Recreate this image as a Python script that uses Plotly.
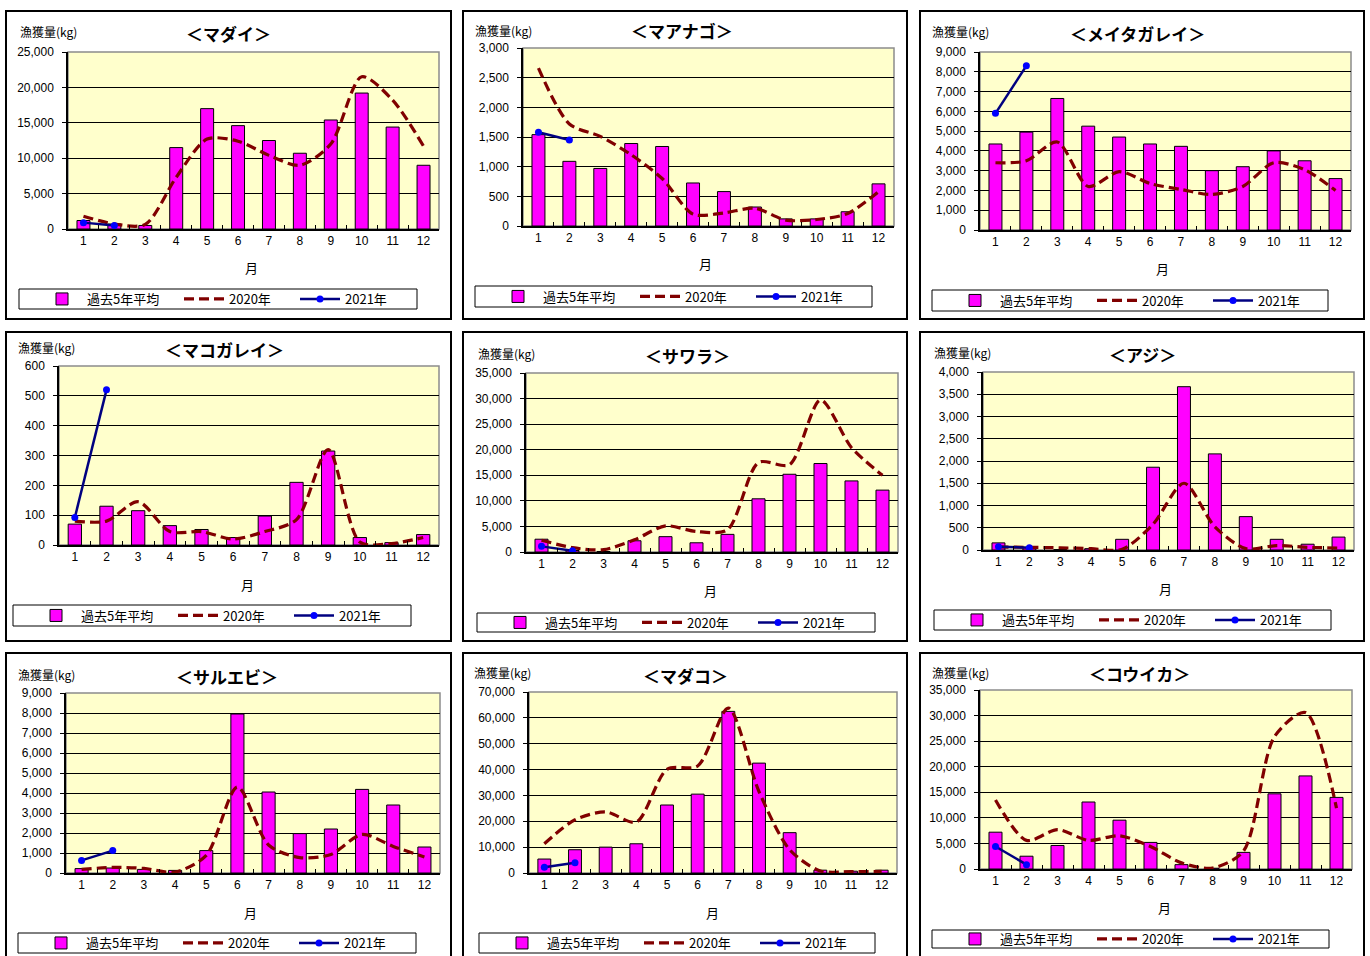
import plotly.graph_objects as go

# ---------------- data ----------------
months = [str(m) for m in range(1, 13)]
series_names = ["過去5年平均", "2020年", "2021年"]
titles = ["＜マダイ＞", "＜マアナゴ＞", "＜メイタガレイ＞", "＜マコガレイ＞", "＜サワラ＞",
          "＜アジ＞", "＜サルエビ＞", "＜マダコ＞", "＜コウイカ＞"]

madai_avg = [1200, 700, 500, 11500, 17000, 14600, 12500, 10700, 15400, 19200, 14400, 9000]
madai_2020 = [1800, 700, 650, 7300, 12700, 12400, 10400, 9000, 12000, 21500, 18200, 11700]
madai_2021 = [900, 500]

maanago_avg = [1540, 1090, 970, 1390, 1340, 725, 580, 320, 120, 120, 240, 710]
maanago_2020 = [2660, 1720, 1510, 1200, 800, 200, 220, 300, 100, 110, 210, 580]
maanago_2021 = [1580, 1450]

meita_avg = [4350, 4950, 6650, 5250, 4700, 4350, 4230, 3000, 3200, 4000, 3500, 2600]
meita_2020 = [3400, 3500, 4450, 2200, 2950, 2350, 2050, 1800, 2200, 3400, 3050, 2000]
meita_2021 = [5900, 8300]

makogarei_avg = [70, 130, 115, 65, 52, 25, 97, 210, 315, 25, 8, 35]
makogarei_2020 = [80, 80, 145, 45, 45, 20, 45, 85, 320, 10, 5, 25]
makogarei_2021 = [92, 520]

sawara_avg = [2500, 300, 100, 2200, 3000, 1800, 3450, 10400, 15200, 17300, 13900, 12100]
sawara_2020 = [2300, 850, 450, 2400, 5100, 4000, 4350, 17500, 17100, 29700, 20400, 15000]
sawara_2021 = [1100, 250]

aji_avg = [160, 60, 10, 30, 240, 1860, 3670, 2160, 750, 240, 130, 290]
aji_2020 = [70, 60, 50, 30, 15, 580, 1500, 520, 30, 100, 60, 45]
aji_2021 = [75, 50]

saruebi_avg = [220, 250, 180, 130, 1120, 7950, 4050, 1970, 2200, 4180, 3400, 1300]
saruebi_2020 = [180, 280, 230, 50, 880, 4300, 1400, 770, 930, 1930, 1330, 800]
saruebi_2021 = [630, 1120]

madako_avg = [5400, 9000, 10000, 11300, 26300, 30500, 62500, 42500, 15600, 1100, 700, 1100]
madako_2020 = [11300, 20600, 23600, 19700, 40100, 41400, 63800, 31500, 9000, 800, 500, 600]
madako_2021 = [2200, 4000]

kouika_avg = [7200, 2500, 4600, 13100, 9550, 5200, 850, 150, 3250, 14700, 18200, 14000]
kouika_2020 = [13500, 5600, 7700, 5600, 6500, 4400, 1200, 200, 3500, 25900, 30600, 11900]
kouika_2021 = [4400, 850]

y_max = [25000, 3000, 9000, 600, 35000, 4000, 9000, 70000, 35000]
y_step = [5000, 500, 1000, 100, 5000, 500, 1000, 10000, 5000]

avg_list = [madai_avg, maanago_avg, meita_avg, makogarei_avg, sawara_avg, aji_avg,
            saruebi_avg, madako_avg, kouika_avg]
y2020_list = [madai_2020, maanago_2020, meita_2020, makogarei_2020, sawara_2020, aji_2020,
              saruebi_2020, madako_2020, kouika_2020]
y2021_list = [madai_2021, maanago_2021, meita_2021, makogarei_2021, sawara_2021, aji_2021,
              saruebi_2021, madako_2021, kouika_2021]

# ---------------- layout geometry (pixels) ----------------
W, H = 1370, 956
# box, plot area, title pos, y-label pos, x-title pos, legend box
geom = [
    ((6, 11, 451, 319), (68, 52, 439, 229), (228, 34), (18, 32), (252, 267), (19, 289, 417, 309)),
    ((463, 11, 907, 319), (523, 48, 894, 226), (682, 31), (473, 30), (706, 264), (475, 286, 872, 307)),
    ((920, 11, 1364, 319), (980, 52, 1351, 230), (1137, 34), (930, 32), (1162, 268), (932, 290, 1328, 311)),
    ((6, 332, 451, 641), (59, 366, 439, 545), (224, 349), (16, 347), (247, 584), (13, 605, 411, 626)),
    ((463, 332, 907, 641), (526, 373, 898, 552), (687, 355), (476, 353), (710, 590), (477, 613, 875, 632)),
    ((920, 332, 1364, 641), (983, 372, 1354, 550), (1142, 354), (932, 352), (1165, 588), (934, 610, 1331, 630)),
    ((6, 653, 451, 962), (66, 693, 440, 873), (227, 676), (16, 674), (250, 912), (18, 933, 416, 953)),
    ((463, 653, 907, 962), (529, 692, 897, 873), (685, 675), (472, 672), (712, 912), (479, 933, 875, 953)),
    ((920, 653, 1364, 962), (980, 690, 1352, 869), (1139, 673), (930, 672), (1164, 907), (932, 930, 1329, 948)),
]
# offsets of the three legend entries from the legend-box left edge
legend_offsets = [18, 160, 276]


def fx(x):
    return x / W


def fy(y):
    return 1 - y / H


JP = "Noto Sans CJK JP"
NUM = "Liberation Sans"

fig = go.Figure()
layout = dict(
    width=W, height=H,
    margin=dict(l=0, r=0, t=0, b=0, pad=0, autoexpand=False),
    paper_bgcolor="white",
    plot_bgcolor="#FFFFCC",
    bargap=0.58,
    showlegend=True,
    shapes=[], annotations=[],
)

for i in range(9):
    n = i + 1
    sfx = "" if n == 1 else str(n)
    xa, ya = "x" + sfx, "y" + sfx
    box, plot, tpos, ylpos, xtpos, lbox = geom[i]
    lgs = ["legend" + ("" if (3 * i + k) == 0 else str(3 * i + k + 1)) for k in range(3)]

    fig.add_trace(go.Bar(
        x=months, y=avg_list[i], name=series_names[0],
        marker=dict(color="#FF00FF", line=dict(color="black", width=1)),
        xaxis=xa, yaxis=ya, legend=lgs[0], hoverinfo="x+y"))
    fig.add_trace(go.Scatter(
        x=months, y=y2020_list[i], name=series_names[1], mode="lines",
        line=dict(color="#800000", width=3.2, dash="10px,5px", shape="spline", smoothing=0.8),
        xaxis=xa, yaxis=ya, legend=lgs[1]))
    fig.add_trace(go.Scatter(
        x=months[:len(y2021_list[i])], y=y2021_list[i], name=series_names[2], mode="lines+markers",
        line=dict(color="#000080", width=2.5),
        marker=dict(color="#0000FF", size=7),
        xaxis=xa, yaxis=ya, legend=lgs[2]))

    l, t, r, b = plot
    layout["xaxis" + sfx] = dict(
        domain=[fx(l), fx(r)], anchor=ya, type="category", range=[-0.5, 11.5],
        showline=True, linecolor="black", linewidth=1.5,
        ticks="inside", ticklen=4, tickcolor="black", tickson="boundaries",
        tickfont=dict(family=NUM, size=12, color="black"),
        showgrid=False, zeroline=False, fixedrange=True, automargin=False)
    layout["yaxis" + sfx] = dict(
        domain=[fy(b), fy(t)], anchor=xa, range=[0, y_max[i]], dtick=y_step[i],
        tick0=0, tickformat=",d",
        showline=True, linecolor="black", linewidth=1.5,
        ticks="outside", ticklen=4, tickcolor="black", ticklabelstandoff=6,
        tickfont=dict(family=NUM, size=12, color="black"),
        showgrid=True, gridcolor="black", gridwidth=1, zeroline=False, fixedrange=True,
        automargin=False)

    # plot-area frame (grey top/right edge)
    layout["shapes"].append(dict(
        type="rect", xref=xa + " domain", yref=ya + " domain", x0=0, x1=1, y0=0, y1=1,
        line=dict(color="#8C8C8C", width=1.5), layer="below"))
    # panel border
    bl, bt, br, bb = box
    layout["shapes"].append(dict(
        type="rect", xref="paper", yref="paper", x0=fx(bl), x1=fx(br), y0=fy(bb), y1=fy(bt),
        line=dict(color="black", width=2)))
    # legend box
    ll, lt, lr, lb = lbox
    layout["shapes"].append(dict(
        type="rect", xref="paper", yref="paper", x0=fx(ll), x1=fx(lr), y0=fy(lb), y1=fy(lt),
        line=dict(color="black", width=1), fillcolor="white", layer="below"))
    for k in range(3):
        layout[lgs[k]] = dict(
            orientation="h", x=fx(ll + legend_offsets[k]), y=fy((lt + lb) / 2),
            xanchor="left", yanchor="middle",
            bgcolor="rgba(0,0,0,0)", borderwidth=0, itemwidth=40,
            font=dict(family=JP, size=13, color="black"),
            itemclick=False, itemdoubleclick=False)

    # titles
    layout["annotations"].append(dict(
        text="<b>" + titles[i] + "</b>", x=fx(tpos[0]), y=fy(tpos[1]), xref="paper", yref="paper",
        xanchor="center", yanchor="middle", showarrow=False,
        font=dict(family=JP, size=17, color="black")))
    layout["annotations"].append(dict(
        text="漁獲量(kg)", x=fx(ylpos[0]), y=fy(ylpos[1]), xref="paper", yref="paper",
        xanchor="left", yanchor="middle", showarrow=False,
        font=dict(family=JP, size=12, color="black")))
    layout["annotations"].append(dict(
        text="月", x=fx(xtpos[0]), y=fy(xtpos[1]), xref="paper", yref="paper",
        xanchor="center", yanchor="middle", showarrow=False,
        font=dict(family=JP, size=13, color="black")))

fig.update_layout(**layout)
post = ("document.documentElement.style.margin='0';document.body.style.margin='0';"
        "document.body.style.overflow='hidden';"
        "var gd=document.getElementById('{plot_id}');"
        "gd.style.position='fixed';gd.style.left='0px';gd.style.top='0px';")
fig.write_html("out.html", config={"displayModeBar": False}, post_script=post)
